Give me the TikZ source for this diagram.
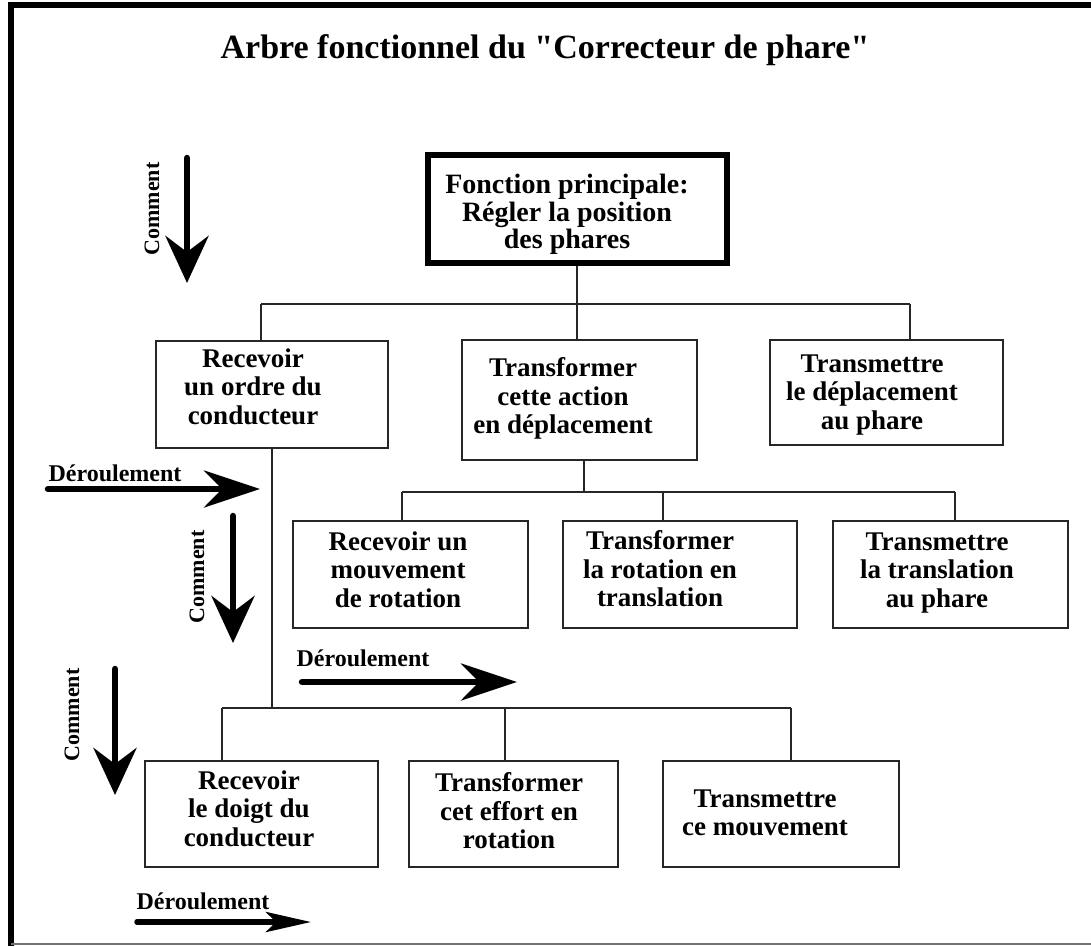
\documentclass[tikz,border=0pt]{standalone}
\usepackage{fontspec}
\setmainfont{Liberation Serif}
\newfontfamily\titfam{Liberation Serif}[Ligatures=TeXOff]
\usetikzlibrary{arrows.meta}
\newcommand\boxfont{\fontsize{27}{28.5}\selectfont\bfseries}
\newcommand\topfont{\fontsize{28}{27.5}\selectfont\bfseries}
\newcommand\labfont{\fontsize{24}{26}\selectfont\bfseries}
\newcommand\comfont{\fontsize{22}{24}\selectfont\bfseries}
\newcommand\titfont{\titfam\fontsize{34}{38}\selectfont\bfseries}
\begin{document}
\begin{tikzpicture}[x=1pt,y=-1pt,
  fbox/.style={draw=black!85, line width=2pt, inner sep=0pt},
  mainbox/.style={draw=black, line width=6pt, inner sep=0pt},
  txt/.style={font=\boxfont, align=center, inner sep=0pt, anchor=north},
  conn/.style={draw=black!85, line width=1.8pt},
  comarrow/.style={line width=6.5pt, line cap=round, -{Stealth[length=47pt,width=43pt,inset=16pt]}},
  derarrow/.style={line width=6.5pt, line cap=round, -{Stealth[length=56pt,width=37pt,inset=18pt]}},
  smallarrow/.style={line width=5.5pt, line cap=round, -{Stealth[length=45pt,width=20pt,inset=10pt]}},
  comlab/.style={font=\comfont, inner sep=0pt, rotate=90},
  derlab/.style={font=\labfont, inner sep=0pt}]
\useasboundingbox (0,0) rectangle (1091,946);
\fill[white] (0,0) rectangle (1091,946);
% frame
\draw[line width=5.5pt] (11,946) -- (11,5) -- (1091,5);
\draw[line width=5.5pt] (8.3,5) -- (1091,5);
\draw[black!55, line width=2pt] (11,944) -- (1091,944);
% title
\node[font=\titfont, inner sep=0pt] (title) at (545,50) {Arbre fonctionnel du "Correcteur de phare"};
% main function box
\node[mainbox, minimum width=299pt, minimum height=108pt] (top) at (577.5,209) {};
\node[font=\topfont, align=center, inner sep=0pt, anchor=north] (ttop) at (567,174) {Fonction principale:\\Régler la position\\des phares};
% level 1
\node[fbox, minimum width=232pt, minimum height=107pt] (b1a) at (272,394.5) {};
\node[fbox, minimum width=235pt, minimum height=120pt] (b1b) at (579.5,400) {};
\node[fbox, minimum width=233pt, minimum height=105pt] (b1c) at (886.5,392.5) {};
\node[txt] (t1a) at (253,348.5) {Recevoir\\un ordre du\\conducteur};
\node[txt] (t1b) at (563,357.5) {Transformer\\cette action\\en déplacement};
\node[txt] (t1c) at (872,354.5) {Transmettre\\le déplacement\\au phare};
% level 2
\node[fbox, minimum width=235pt, minimum height=107pt] (b2a) at (410.5,574.5) {};
\node[fbox, minimum width=234pt, minimum height=107pt] (b2b) at (680,574.5) {};
\node[fbox, minimum width=235pt, minimum height=107pt] (b2c) at (950.5,574.5) {};
\node[txt] (t2a) at (398,531.5) {Recevoir un\\mouvement\\de rotation};
\node[txt] (t2b) at (660,530.5) {Transformer\\la rotation en\\translation};
\node[txt] (t2c) at (937,532.5) {Transmettre\\la translation\\au phare};
% level 3
\node[fbox, minimum width=233pt, minimum height=106pt] (b3a) at (261.5,814) {};
\node[fbox, minimum width=209pt, minimum height=106pt] (b3b) at (513.5,814) {};
\node[fbox, minimum width=236pt, minimum height=106pt] (b3c) at (781,814) {};
\node[txt] (t3a) at (249,770.5) {Recevoir\\le doigt du\\conducteur};
\node[txt] (t3b) at (509,772.5) {Transformer\\cet effort en\\rotation};
\node[txt] (t3c) at (765,789.5) {Transmettre\\ce mouvement};
% tree 1
\coordinate (j1) at (577,304);
\coordinate (k1a) at (261,304);
\coordinate (k1c) at (910,304);
\draw[conn] (top.south -| j1) -- (j1);
\draw[conn] (k1a) -- (k1c);
\draw[conn] (k1a) -- (k1a |- b1a.north);
\draw[conn] (j1) -- (j1 |- b1b.north);
\draw[conn] (k1c) -- (k1c |- b1c.north);
% tree 2
\coordinate (j2) at (584,492);
\coordinate (k2a) at (402,492);
\coordinate (k2b) at (663,492);
\coordinate (k2c) at (955,492);
\draw[conn] (j2 |- b1b.south) -- (j2);
\draw[conn] (k2a) -- (k2c);
\draw[conn] (k2a) -- (k2a |- b2a.north);
\draw[conn] (k2b) -- (k2b |- b2b.north);
\draw[conn] (k2c) -- (k2c |- b2c.north);
% tree 3
\coordinate (j3) at (272,708);
\coordinate (k3a) at (222,708);
\coordinate (k3b) at (505,708);
\coordinate (k3c) at (791,708);
\draw[conn] (b1a.south) -- (j3);
\draw[conn] (k3a) -- (k3c);
\draw[conn] (k3a) -- (k3a |- b3a.north);
\draw[conn] (k3b) -- (k3b |- b3b.north);
\draw[conn] (k3c) -- (k3c |- b3c.north);
% direction arrows
\coordinate (a1s) at (187,158); \coordinate (a1e) at (187,283);
\coordinate (a2s) at (48,489);  \coordinate (a2e) at (260,489);
\coordinate (a3s) at (233,516); \coordinate (a3e) at (233,643);
\coordinate (a4s) at (302,682); \coordinate (a4e) at (517,682);
\coordinate (a5s) at (115,669); \coordinate (a5e) at (115,795);
\coordinate (a6s) at (137,922); \coordinate (a6e) at (311,922);
\draw[comarrow] (a1s) -- (a1e);
\draw[derarrow] (a2s) -- (a2e);
\draw[comarrow] (a3s) -- (a3e);
\draw[derarrow] (a4s) -- (a4e);
\draw[comarrow] (a5s) -- (a5e);
\draw[smallarrow] (a6s) -- (a6e);
\node[comlab] (c1) at (152,209) {Comment};
\node[derlab] (d1) at (115,473) {Déroulement};
\node[comlab] (c2) at (197,577) {Comment};
\node[derlab] (d2) at (363,658) {Déroulement};
\node[comlab] (c3) at (72,715) {Comment};
\node[derlab] (d3) at (203,901) {Déroulement};
\end{tikzpicture}
\end{document}
